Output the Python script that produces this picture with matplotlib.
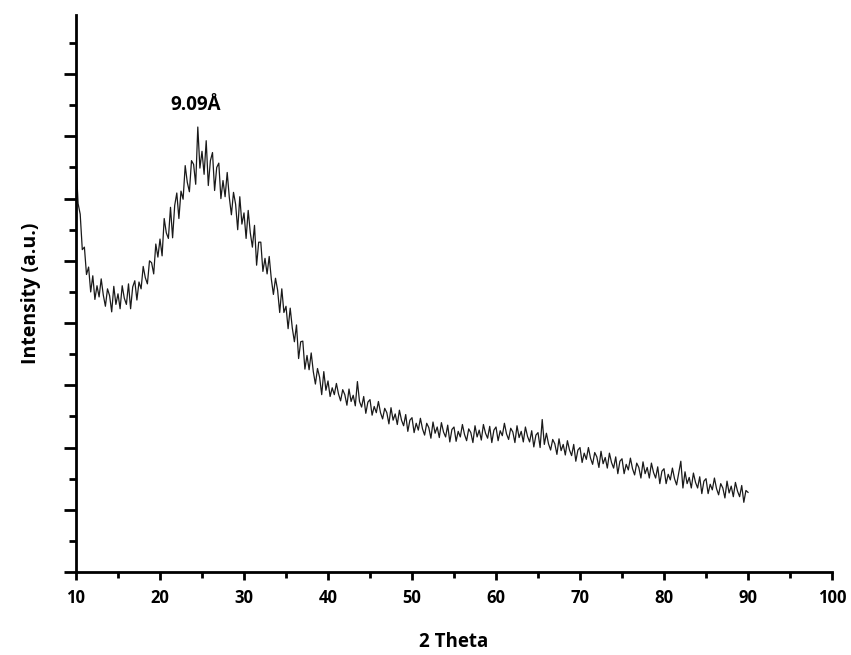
import numpy as np
import matplotlib
matplotlib.use('Agg')
import matplotlib.pyplot as plt
from matplotlib.ticker import MultipleLocator

# 2 theta positions (every 0.25 deg from 10 to 90)
two_theta = np.arange(10, 90.001, 0.25)

# intensity (arbitrary units)
intensity = [
    660, 592, 575, 518, 522, 478, 490, 450,
    476, 438, 460, 442, 471, 445, 427, 455, 444, 418, 459, 430, 447, 423, 460, 440,
    430, 463, 423, 458, 468, 437, 466, 455, 491, 473, 463, 500, 497, 479, 527, 506,
    535, 508, 568, 545, 536, 586, 537, 589, 609, 568, 612, 599, 653, 626, 611, 661,
    655, 623, 715, 649, 676, 639, 693, 621, 661, 674, 613, 650, 657, 600, 629, 603,
    642, 602, 574, 610, 591, 550, 603, 559, 577, 536, 581, 545, 522, 557, 493, 530,
    530, 483, 504, 479, 507, 471, 446, 472, 453, 417, 455, 417, 427, 391, 424, 392,
    370, 397, 343, 370, 371, 326, 348, 325, 352, 322, 302, 327, 313, 285, 322, 292,
    307, 282, 296, 285, 303, 286, 275, 293, 285, 268, 294, 274, 284, 267, 306, 274,
    265, 282, 255, 273, 277, 252, 266, 256, 274, 256, 246, 263, 256, 238, 264, 244,
    254, 237, 260, 244, 235, 253, 226, 244, 248, 224, 239, 228, 247, 230, 220, 239,
    232, 215, 241, 223, 233, 216, 240, 225, 217, 236, 209, 229, 233, 210, 226, 217,
    237, 221, 211, 230, 224, 208, 235, 217, 228, 212, 237, 223, 215, 234, 208, 228,
    233, 211, 227, 219, 239, 222, 213, 231, 225, 208, 235, 216, 226, 209, 233, 218,
    209, 227, 201, 220, 224, 200, 245, 205, 223, 206, 196, 213, 206, 189, 214, 195,
    205, 188, 211, 196, 187, 205, 178, 196, 200, 176, 191, 181, 200, 183, 173, 192,
    185, 168, 194, 174, 184, 167, 191, 176, 167, 185, 158, 178, 182, 158, 173, 164,
    183, 166, 156, 175, 168, 151, 177, 158, 168, 151, 175, 160, 151, 169, 142, 162,
    166, 142, 157, 148, 167, 150, 140, 159, 178, 135, 161, 142, 152, 135, 159, 144,
    135, 153, 126, 146, 150, 126, 141, 132, 151, 134, 124, 142, 135, 119, 146, 127,
    138, 121, 144, 130, 121, 139, 112, 131, 128,
]

x_ticks = [10, 20, 30, 40, 50, 60, 70, 80, 90, 100]
peak_label = '9.09Å'
peak_pos = (24.2, 750)

plt.rcParams['font.family'] = ['Open Sans', 'DejaVu Sans']

fig = plt.figure(figsize=(8.51, 6.55), dpi=100)
ax = fig.add_axes([0.0893, 0.1267, 0.8884, 0.8504])

ax.plot(two_theta, intensity, color='#1a1a1a', lw=0.9)

ax.set_xlim(10, 100)
ax.set_ylim(0, 895)
ax.set_xticks(x_ticks)
ax.xaxis.set_minor_locator(MultipleLocator(5))
ax.yaxis.set_major_locator(MultipleLocator(100))
ax.yaxis.set_minor_locator(MultipleLocator(50))
ax.set_yticklabels([])

for s in ['top', 'right']:
    ax.spines[s].set_visible(False)
for s in ['left', 'bottom']:
    ax.spines[s].set_linewidth(2)

ax.tick_params(axis='x', which='major', direction='out', length=6, width=2, pad=6,
               labelsize=12)
ax.tick_params(axis='x', which='minor', direction='out', length=4, width=2)
ax.tick_params(axis='y', which='major', direction='out', length=9, width=2)
ax.tick_params(axis='y', which='minor', direction='out', length=5, width=2)
for lab in ax.get_xticklabels():
    lab.set_fontweight('bold')

ax.set_xlabel('2 Theta', fontsize=13.5, fontweight='bold', labelpad=18)
ax.set_ylabel('Intensity (a.u.)', fontsize=14, fontweight='bold', labelpad=13)

ax.text(peak_pos[0], peak_pos[1], peak_label, ha='center', va='center',
        fontsize=13.5, fontweight='bold')

fig.savefig('out.png', dpi=100)
